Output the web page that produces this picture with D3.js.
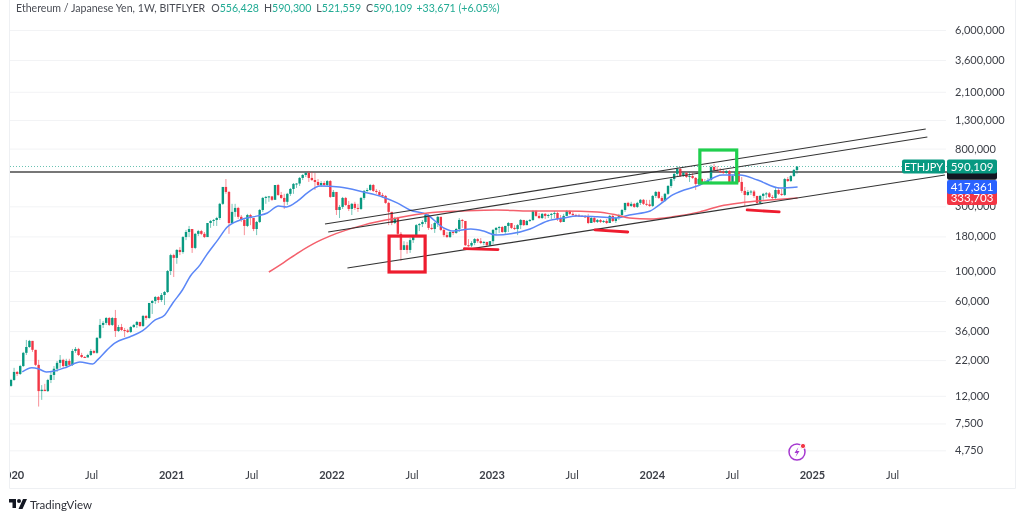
<!DOCTYPE html>
<html>
<head>
<meta charset="utf-8">
<script src="https://cdn.jsdelivr.net/npm/d3@7"></script>
<style>
	html, body { margin: 0; background: #fff; }
	svg { display: block; filter: blur(0.35px); }
	text { font-family: Lato, "Noto Sans", sans-serif; fill: #3b3e46; }
	.axis .domain { display: none; }
	.axis line { stroke: #f2f3f5; }
</style>
</head>
<body>
<svg id="chart" width="1024" height="520"></svg>
<script>
// weekly bars in thousand yen, first bar is the week of 2020-01-06
var firstOpen = 14.2;
var closes = [
	15.7,18.0,17.4,19.9,24.9,27.5,30.5,26.2,20.3,13.0,13.3,13.0,15.7,17.1,19.0,21.0,22.1,19.9,21.7,20.3,
	25.7,26.6,24.0,23.2,23.0,24.0,25.7,24.9,32.1,40.0,41.4,45.0,40.0,45.0,36.1,38.6,36.7,36.4,35.5,38.6,
	40.0,42.1,39.3,46.6,45.0,58.1,60.1,64.3,61.1,66.5,70.0,100,131,125,143,138,178,194,204,148,
	188,197,188,178,226,234,238,246,313,417,383,226,273,292,251,238,215,259,246,204,
	230,282,346,352,355,335,431,364,346,324,371,403,439,442,486,511,529,486,469,454,
	431,446,431,461,352,383,282,297,346,307,287,313,292,287,346,390,396,431,390,383,
	364,358,318,273,226,246,188,143,155,143,169,181,218,222,230,259,208,204,226,251,
	201,184,178,194,191,204,238,234,155,154,161,172,166,161,164,155,166,201,208,211,
	194,215,226,208,204,218,238,218,234,238,277,255,246,264,255,259,264,268,242,230,
	255,277,264,259,257,255,253,251,226,246,230,238,230,234,226,255,234,246,259,282,
	318,302,313,297,318,335,313,310,302,358,383,346,329,371,424,477,520,566,502,529,
	494,502,486,439,477,454,446,469,585,556,547,538,529,547,454,502,538,454,390,364,
	383,386,358,318,358,371,374,352,346,396,371,364,477,461,502,556.428,590.109
];
var highs = [
	16.0,19.3,18.3,20.3,25.3,31.0,31.0,30.5,26.2,22.1,14.4,14.7,16.0,18.0,19.9,21.7,24.0,22.5,22.5,22.5,
	26.6,27.5,27.1,24.9,23.6,24.5,26.6,26.2,32.6,44.3,42.8,45.8,45.8,45.8,51.6,40.0,40.7,38.0,37.4,39.3,
	40.7,42.8,42.1,47.4,47.4,58.1,61.1,65.4,65.4,68.8,71.2,101.7,134,134,145,150,181,201,215,204,
	191,201,201,194,226,238,242,251,318,417,477,390,313,313,297,259,246,264,264,246,
	234,287,352,358,358,358,431,439,383,371,377,410,446,446,494,520,538,547,538,529,
	477,461,461,469,469,396,383,307,352,352,329,318,324,313,352,396,410,439,439,403,
	396,377,364,324,273,251,251,194,166,164,175,184,222,226,238,264,264,222,230,255,
	251,208,194,197,197,208,246,242,234,172,166,175,175,175,166,161,166,204,211,215,
	215,215,230,226,218,222,242,238,238,242,282,282,268,268,268,264,268,277,273,259,
	264,282,282,273,264,264,259,259,264,251,251,242,242,238,242,259,259,251,264,287,
	318,324,324,318,324,340,340,335,335,364,390,390,358,377,431,486,529,595,585,538,
	538,538,529,494,486,486,477,486,606,618,595,575,566,556,556,511,556,547,494,417,
	396,396,396,358,364,377,383,383,364,417,410,403,486,494,511,566,590.3
];
var lows = [
	14.0,15.5,16.8,17.1,19.6,24.0,27.1,25.3,19.9,10.0,11.2,13.0,12.8,14.9,15.7,18.0,19.3,19.3,19.3,19.9,
	19.9,24.9,23.6,22.8,22.8,23.2,23.6,24.5,24.5,31.5,38.0,40.0,39.3,39.3,32.6,35.5,36.1,32.6,34.9,34.9,
	38.0,38.0,38.6,38.6,43.5,44.3,48.2,57.1,58.1,59.1,56.1,68.8,93.4,90.3,113,131,134,169,178,136,
	145,181,184,175,178,208,215,215,238,307,371,188,222,251,242,230,184,211,218,197,
	184,226,273,313,324,329,340,358,340,287,307,358,371,410,424,469,494,454,461,396,
	417,417,424,424,346,352,259,246,287,302,277,259,282,273,282,335,383,390,383,371,
	358,346,313,218,218,222,181,119,143,134,136,161,181,197,211,222,201,201,191,211,
	197,178,175,175,184,188,194,208,153,150,150,155,161,158,155,153,153,158,184,191,
	191,188,194,204,201,184,204,215,218,230,234,251,242,242,242,246,242,246,234,226,
	230,255,259,255,251,251,251,246,222,226,226,226,226,226,222,226,230,226,238,255,
	273,297,297,292,292,307,307,302,297,297,346,340,318,324,364,410,461,502,494,494,
	486,454,477,396,431,446,439,439,454,547,542,529,520,520,446,439,494,446,377,302,
	358,364,346,307,313,335,346,346,340,340,364,358,358,454,454,494,521.559
];

// moving averages: decimal year, thousand yen
var blueYears = [2020.07,2020.13,2020.17,2020.22,2020.27,2020.35,2020.43,2020.51,2020.54,2020.60,2020.65,2020.74,2020.82,2020.90,2020.96,2021.01,2021.07,2021.12,2021.18,2021.22,2021.29,2021.35,2021.43,2021.54,2021.60,2021.67,2021.72,2021.79,2021.85,2021.93,2022.05,2022.20,2022.32,2022.41,2022.49,2022.60,2022.70,2022.76,2022.87,2022.95,2023.03,2023.12,2023.24,2023.35,2023.45,2023.53,2023.66,2023.78,2023.86,2023.99,2024.03,2024.13,2024.30,2024.44,2024.55,2024.66,2024.80,2024.91];
var blueValues = [18.0,19.3,19.0,18.0,18.3,19.6,21.3,20.6,22.1,26.2,29.5,32.6,36.1,43.5,47.4,58.1,72.4,91.9,111,131,169,211,238,255,268,302,297,329,377,424,417,383,352,318,282,259,208,197,204,197,184,188,204,234,246,255,251,246,259,277,297,364,431,511,511,469,410,417.361];
var redYears = [2021.61,2021.70,2021.80,2021.91,2021.99,2022.20,2022.41,2022.60,2022.82,2023.03,2023.24,2023.45,2023.66,2023.78,2023.86,2023.99,2024.13,2024.30,2024.43,2024.55,2024.76,2024.91];
var redValues = [98.3,115,138,164,181,218,246,268,277,282,277,277,273,259,246,242,251,273,302,318,335,346];

// drawn on the chart by hand
var levelPrice = 537;
var lastPrice = 590.109;
var trendLines = [
	[2021.96, 222, 2025.71, 1117],
	[2021.98, 194, 2025.72, 975],
	[2022.10, 105.2, 2025.83, 511]
];
var boxes = [
	{x0: 2022.36, x1: 2022.585, top: 181, bottom: 98.3, color: '#ee1c2e'},
	{x0: 2024.30, x1: 2024.53, top: 781, bottom: 446, color: '#20cf4e'}
];
var underlines = [
	[2022.83, 146, 2023.04, 144],
	[2023.645, 201, 2023.85, 194],
	[2024.595, 282, 2024.795, 273]
];

var priceTicks = [6000, 3600, 2100, 1300, 800, 300, 180, 100, 60, 36, 22, 12, 7.5, 4.75];
var timeTicks = [2020, 2020.5, 2021, 2021.5, 2022, 2022.5, 2023, 2023.5, 2024, 2024.5, 2025, 2025.5];
var priceTags = [
	{price: 346, label: '333,703', color: '#f23645'},
	{price: 417.361, label: '417,361', color: '#2962ff'},
	{price: 530, label: '', color: '#131722'},
	{price: 590.109, label: '590,109', color: '#089981'}
];

//- - - - - - - - - - - - - - - - - - - - - - - - - - - - - - - - - - - - - - -

var upColor = '#089981', downColor = '#f23645';
var left = 10, right = 950, gridRight = 946, bottom = 463;

var svg = d3.select('#chart');
var x = d3.scaleLinear().domain([2020, 2025]).range([11, 812]);
var y = d3.scaleLog().domain([100, 6000]).range([271, 30]);

var bars = closes.map(function (c, i) {
	return {
		year: 2020 + i * 7 / 365.25,
		open: i ? closes[i - 1] : firstOpen,
		close: c,
		high: highs[i],
		low: lows[i]
	};
});

svg.append('clipPath').attr('id', 'plot')
	.append('rect')
	.attr('x', left).attr('y', 0)
	.attr('width', right - left).attr('height', 520);

//- - - - - - - - - - - - - - - - - - - - - - - - - - - - - - - - - - - - - - -

var timeAxis = svg.append('g')
	.attr('class', 'axis')
	.attr('clip-path', 'url(#plot)')
	.attr('transform', 'translate(0,' + bottom + ')')
	.call(d3.axisBottom(x)
		.tickValues(timeTicks)
		.tickSize(-bottom)
		.tickPadding(8)
		.tickFormat(function (d) { return d % 1 ? 'Jul' : d; }));

timeAxis.selectAll('text')
	.attr('font-size', 11)
	.style('font-weight', function (d) { return d % 1 ? 400 : 700; });

var priceAxis = svg.append('g')
	.attr('class', 'axis')
	.attr('transform', 'translate(' + gridRight + ',0)')
	.call(d3.axisRight(y)
		.tickValues(priceTicks)
		.tickSize(-(gridRight - left))
		.tickPadding(9)
		.tickFormat(function (d) { return d3.format(',')(d * 1000); }));

priceAxis.selectAll('text').attr('font-size', 11);

svg.append('path')
	.attr('d', 'M' + (left - 0.5) + ',0 V488.5 H1015.5 V0')
	.attr('fill', 'none')
	.attr('stroke', '#eef0f3');

//- - - - - - - - - - - - - - - - - - - - - - - - - - - - - - - - - - - - - - -

var plot = svg.append('g').attr('clip-path', 'url(#plot)');

plot.append('line')
	.attr('x1', left).attr('x2', right)
	.attr('y1', y(lastPrice)).attr('y2', y(lastPrice))
	.attr('stroke', upColor)
	.attr('stroke-width', 1)
	.attr('stroke-dasharray', '1 2')
	.attr('opacity', 0.6);

plot.append('line')
	.attr('x1', left).attr('x2', right)
	.attr('y1', y(levelPrice)).attr('y2', y(levelPrice))
	.attr('stroke', '#4a4a4a')
	.attr('stroke-width', 1.6);

var candles = plot.append('g').selectAll('g')
	.data(bars)
	.enter()
	.append('g')
	.attr('fill', function (d) { return d.close >= d.open ? upColor : downColor; });

candles.append('rect')
	.attr('x', function (d) { return x(d.year) - 0.5; })
	.attr('width', 1)
	.attr('y', function (d) { return y(d.high); })
	.attr('height', function (d) { return y(d.low) - y(d.high); })
	.attr('opacity', 0.55);

candles.append('rect')
	.attr('x', function (d) { return x(d.year) - 1.2; })
	.attr('width', 2.4)
	.attr('y', function (d) { return y(Math.max(d.open, d.close)); })
	.attr('height', function (d) { return Math.max(1, Math.abs(y(d.open) - y(d.close))); });

function maLine(years)
{
	return d3.line()
		.x(function (d, i) { return x(years[i]); })
		.y(function (d) { return y(d); })
		.curve(d3.curveMonotoneX);
}

plot.append('path')
	.attr('d', maLine(blueYears)(blueValues))
	.attr('fill', 'none')
	.attr('stroke', '#5b87f7')
	.attr('stroke-width', 1.5);

plot.append('path')
	.attr('d', maLine(redYears)(redValues))
	.attr('fill', 'none')
	.attr('stroke', '#f4606c')
	.attr('stroke-width', 1.5);

plot.selectAll('.trend')
	.data(trendLines)
	.enter()
	.append('line')
	.attr('class', 'trend')
	.attr('x1', function (d) { return x(d[0]); })
	.attr('y1', function (d) { return y(d[1]); })
	.attr('x2', function (d) { return x(d[2]); })
	.attr('y2', function (d) { return y(d[3]); })
	.attr('stroke', '#333')
	.attr('stroke-width', 1.1);

plot.selectAll('.box')
	.data(boxes)
	.enter()
	.append('rect')
	.attr('class', 'box')
	.attr('x', function (d) { return x(d.x0); })
	.attr('y', function (d) { return y(d.top); })
	.attr('width', function (d) { return x(d.x1) - x(d.x0); })
	.attr('height', function (d) { return y(d.bottom) - y(d.top); })
	.attr('fill', 'none')
	.attr('stroke', function (d) { return d.color; })
	.attr('stroke-width', 3.2);

plot.selectAll('.underline')
	.data(underlines)
	.enter()
	.append('line')
	.attr('class', 'underline')
	.attr('x1', function (d) { return x(d[0]); })
	.attr('y1', function (d) { return y(d[1]); })
	.attr('x2', function (d) { return x(d[2]); })
	.attr('y2', function (d) { return y(d[3]); })
	.attr('stroke', '#ee1c2e')
	.attr('stroke-width', 2.8)
	.attr('stroke-linecap', 'round');

//- - - - - - - - - - - - - - - - - - - - - - - - - - - - - - - - - - - - - - -

var tags = svg.selectAll('.tag')
	.data(priceTags)
	.enter()
	.append('g')
	.attr('class', 'tag')
	.attr('transform', function (d) { return 'translate(947,' + y(d.price) + ')'; });

tags.append('rect')
	.attr('x', 0).attr('y', -7)
	.attr('width', 50).attr('height', 14)
	.attr('rx', 2)
	.attr('fill', function (d) { return d.color; });

tags.append('text')
	.attr('x', 25).attr('y', 4)
	.attr('text-anchor', 'middle')
	.attr('font-size', 11.5)
	.style('fill', '#fff')
	.text(function (d) { return d.label; });

var symbolTag = svg.append('g')
	.attr('transform', 'translate(902,' + y(lastPrice) + ')');

symbolTag.append('rect')
	.attr('x', 0).attr('y', -7)
	.attr('width', 43).attr('height', 14)
	.attr('rx', 2)
	.attr('fill', upColor);

symbolTag.append('text')
	.attr('x', 21.5).attr('y', 4)
	.attr('text-anchor', 'middle')
	.attr('font-size', 11)
	.style('fill', '#fff')
	.text('ETHJPY');

//- - - - - - - - - - - - - - - - - - - - - - - - - - - - - - - - - - - - - - -

var title = svg.append('text')
	.attr('x', 16).attr('y', 11.5)
	.attr('font-size', 10.6);

var titleParts = [
	['Ethereum / Japanese Yen, 1W, BITFLYER', '#4a4d55', 0],
	['O', '#4a4d55', 6], ['556,428', '#22ab94', 0],
	['H', '#4a4d55', 5], ['590,300', '#22ab94', 0],
	['L', '#4a4d55', 5], ['521,559', '#22ab94', 0],
	['C', '#4a4d55', 5], ['590,109', '#22ab94', 0],
	['+33,671 (+6.05%)', '#22ab94', 4]
];

title.selectAll('tspan')
	.data(titleParts)
	.enter()
	.append('tspan')
	.attr('dx', function (d) { return d[2]; })
	.style('fill', function (d) { return d[1]; })
	.text(function (d) { return d[0]; });

var flash = svg.append('g').attr('transform', 'translate(797,452)');

flash.append('circle')
	.attr('r', 8)
	.attr('fill', '#fff')
	.attr('stroke', '#a63ad0')
	.attr('stroke-width', 1.5);

flash.append('path')
	.attr('d', 'M1.5,-5 L-2.5,1 L0,1 L-1.5,5 L2.5,-1 L0,-1 Z')
	.attr('fill', '#a63ad0');

flash.append('circle')
	.attr('cx', 6).attr('cy', -6)
	.attr('r', 2.6)
	.attr('fill', '#f23645')
	.attr('stroke', '#fff');

var logo = svg.append('g').attr('transform', 'translate(9,498)');

logo.append('path')
	.attr('d', 'M0,1 H7 V10 H3.5 V4.5 H0 Z M14,1 H18 L13.5,11 H9.5 Z')
	.attr('fill', '#131722');

logo.append('circle')
	.attr('cx', 10).attr('cy', 3)
	.attr('r', 2)
	.attr('fill', '#131722');

svg.append('text')
	.attr('x', 30).attr('y', 509)
	.attr('font-size', 11.5)
	.style('fill', '#2e3038')
	.text('TradingView');
</script>
</body>
</html>
